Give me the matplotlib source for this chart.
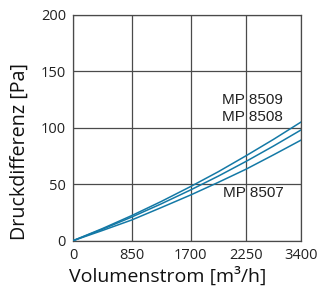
import numpy as np
import matplotlib
matplotlib.use('Agg')
import matplotlib.pyplot as plt

# x-axis tick values (grid lines are not evenly spaced in value)
tick_flow = [0, 850, 1700, 2250, 3400]
tick_pos = [0, 58.5, 117.5, 172.7, 227.5]

flow = [0, 425, 850, 1275, 1700, 1975, 2250, 2825, 3400]
mp8509 = [0, 10.7, 22.2, 34.7, 48, 61.1, 75.2, 89.7, 105]
mp8508 = [0, 10.1, 20.9, 32.6, 45, 57.2, 70.2, 83.8, 98]
mp8507 = [0, 9.0, 18.3, 29.3, 40.5, 51.7, 63.3, 76, 89]

yticks = [0, 50, 100, 150, 200]


def fwd(x):
    return np.interp(x, tick_flow, tick_pos)


def inv(p):
    return np.interp(p, tick_pos, tick_flow)


plt.rcParams['font.family'] = ['Open Sans', 'DejaVu Sans']
fig = plt.figure(figsize=(3.17, 2.93), dpi=100)
ax = fig.add_axes([0.2303, 0.1785, 0.719, 0.771])

col = '#1479a6'
for ys in (mp8509, mp8508, mp8507):
    ax.plot(flow, ys, color=col, linewidth=1.1, zorder=3)

ax.set_xscale('function', functions=(fwd, inv))
ax.set_xlim(0, 3400)
ax.set_ylim(0, 200)
ax.set_xticks(tick_flow)
ax.set_xticklabels([str(t) for t in tick_flow])
ax.set_yticks(yticks)
ax.grid(True, color='#4a4a4a', linewidth=0.9)
for s in ax.spines.values():
    s.set_color('#4a4a4a')
    s.set_linewidth(0.9)
ax.tick_params(length=0, labelsize=10.5, colors='#222222', pad=5)

ax.set_xlabel('Volumenstrom [m³/h]', fontsize=14, color='#111111')
ax.xaxis.set_label_coords(0.415, -0.115)
ax.set_ylabel('Druckdifferenz [Pa]', fontsize=14.2, color='#111111')
ax.yaxis.set_label_coords(-0.19, 0.397)

lab = dict(fontsize=11, family=['Liberation Sans', 'DejaVu Sans'],
           ha='right', va='center', color='#222222')
ax.text(3030, 124.5, 'MP 8509', **lab)
ax.text(3030, 109.5, 'MP 8508', **lab)
ax.text(3030, 42.5, 'MP 8507', **lab)

fig.savefig('out.png', dpi=100)
